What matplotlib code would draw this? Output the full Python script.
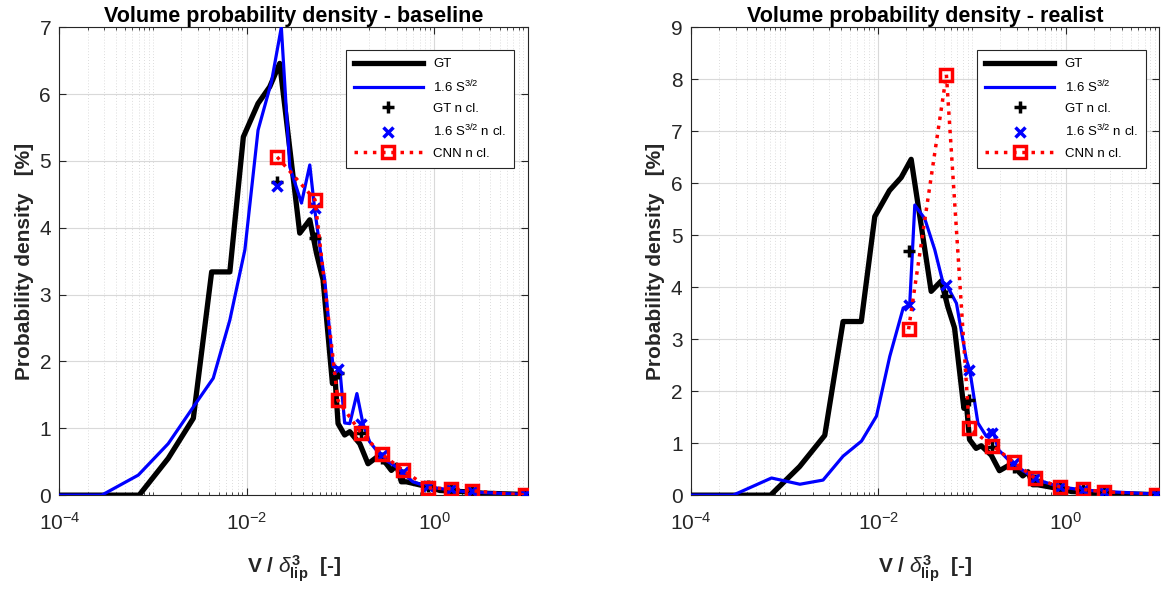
import numpy as np
import matplotlib
matplotlib.use('Agg')
import matplotlib.pyplot as plt
from matplotlib.ticker import LogLocator, NullFormatter

plt.rcParams['font.family'] = 'Liberation Sans'
plt.rcParams['mathtext.fontset'] = 'custom'
plt.rcParams['mathtext.rm'] = 'Liberation Sans'
plt.rcParams['mathtext.bf'] = 'Liberation Sans:bold'
plt.rcParams['mathtext.it'] = 'Liberation Sans:italic'

# ground truth curve (same for both panels)
gt_x = [1e-4, 7.1e-4, 1.45e-3, 2.69e-3, 4.22e-3, 6.6e-3, 9.2e-3, 1.32e-2, 1.76e-2,
        2.25e-2, 3.68e-2, 4.71e-2, 5.55e-2, 6.53e-2, 8.22e-2, 8.7e-2, 9.44e-2,
        0.111, 0.126, 0.161, 0.197, 0.263, 0.35, 0.398, 0.447, 0.506, 0.89,
        1.15, 2.19, 3.31, 9.5]
gt_y = [0, 0, 0.55, 1.15, 3.34, 3.34, 5.36, 5.86, 6.11, 6.46, 3.92, 4.12,
        3.62, 3.22, 1.67, 1.82, 1.07, 0.90, 0.95, 0.77, 0.47, 0.60, 0.37, 0.45,
        0.20, 0.20, 0.12, 0.07, 0.05, 0.03, 0.01]

# 1.6 S^3/2 curve, baseline
bl_x = [1e-4, 2.83e-4, 6.95e-4, 1.45e-3, 2.69e-3, 4.39e-3, 6.6e-3, 9.55e-3,
        1.32e-2, 1.84e-2, 2.34e-2, 2.88e-2, 3.84e-2, 4.71e-2, 5.32e-2, 6.3e-2,
        6.8e-2, 8.34e-2, 9.84e-2, 0.111, 0.126, 0.150, 0.174, 0.205, 0.284,
        0.398, 0.594, 0.89, 2.19, 9.5]
bl_y = [0, 0, 0.30, 0.77, 1.32, 1.75, 2.62, 3.67, 5.46, 6.19, 7.0, 4.91,
        4.37, 4.94, 4.27, 3.52, 3.22, 1.92, 1.90, 1.08, 1.07, 1.52, 1.07, 0.80,
        0.55, 0.42, 0.20, 0.12, 0.05, 0.01]

# 1.6 S^3/2 curve, realist
rl_x = [1e-4, 2.83e-4, 7.26e-4, 1.46e-3, 2.58e-3, 4.22e-3, 6.64e-3, 9.59e-3,
        1.33e-2, 1.85e-2, 2.17e-2, 2.46e-2, 3.14e-2, 4.02e-2, 4.93e-2, 5.36e-2,
        6.85e-2, 8.75e-2, 9.5e-2, 0.116, 0.143, 0.168, 0.191, 0.264, 0.383,
        0.49, 0.867, 1.54, 2.69, 9.3]
rl_y = [0, 0, 0.33, 0.21, 0.29, 0.75, 1.04, 1.52, 2.67, 3.60, 3.66, 5.58,
        5.32, 4.72, 4.08, 4.05, 3.69, 2.60, 2.41, 1.39, 1.13, 1.26, 0.88, 0.62,
        0.43, 0.30, 0.16, 0.10, 0.07, 0.02]

# "n cl." points, shared bin positions
ncl_x = [0.0211, 0.0535, 0.0938, 0.166, 0.279, 0.468, 0.871, 1.53, 2.57, 9.33]
gt_ncl = [4.69, 3.84, 1.83, 0.93, 0.55, 0.30, 0.13, 0.09, 0.06, 0.01]
bl_s_ncl = [4.62, 4.30, 1.88, 1.07, 0.60, 0.35, 0.13, 0.09, 0.06, 0.01]
bl_cnn = [5.06, 4.42, 1.42, 0.93, 0.61, 0.37, 0.11, 0.095, 0.065, 0.0]
rl_s_ncl = [3.66, 4.05, 2.41, 1.20, 0.62, 0.33, 0.15, 0.10, 0.06, 0.02]
rl_cnn = [3.19, 8.09, 1.29, 0.95, 0.64, 0.33, 0.16, 0.11, 0.065, 0.01]

panels = [
    ('Volume probability density - baseline', bl_x, bl_y, bl_s_ncl, bl_cnn, 7),
    ('Volume probability density - realist', rl_x, rl_y, rl_s_ncl, rl_cnn, 9),
]

fig = plt.figure(figsize=(11.65, 5.93), dpi=100)
lefts = [0.051, 0.593]
grey = (0.15, 0.15, 0.15)

for left, (title, sx, sy, s_ncl, cnn, ymax) in zip(lefts, panels):
    ax = fig.add_axes([left, 0.165, 0.402, 0.789])
    ax.plot(gt_x, gt_y, color='k', lw=3.8, label='GT', zorder=3)
    ax.plot(sx, sy, color='b', lw=2.3, label=r'1.6 S$^{3/2}$', zorder=4)
    ax.plot(ncl_x, gt_ncl, 'k+', ms=8, mew=2.5, label='GT n cl.', zorder=5)
    ax.plot(ncl_x, s_ncl, 'bx', ms=7, mew=2.5, label=r'1.6 S$^{3/2}$ n cl.', zorder=5)
    ax.plot(ncl_x, cnn, color='r', ls=':', lw=2.5, marker='s', ms=8,
            mfc='none', mew=2.5, label='CNN n cl.', zorder=6)

    ax.set_xscale('log')
    ax.set_xlim(1e-4, 1e1)
    ax.set_ylim(0, ymax)
    ax.set_xticks([1e-4, 1e-2, 1e0])
    ax.xaxis.set_minor_locator(LogLocator(base=10, subs=np.arange(1, 10), numticks=20))
    ax.xaxis.set_minor_formatter(NullFormatter())
    ax.set_yticks(range(ymax + 1))
    ax.grid(which='major', color='0.85', lw=0.8, zorder=0)
    ax.grid(which='minor', axis='x', color='0.82', lw=0.6, ls=(0, (1, 2.5)), zorder=0)
    ax.tick_params(which='both', direction='in', top=True, right=True,
                   labelsize=15, colors=grey)
    ax.tick_params(axis='x', pad=12)
    ax.tick_params(axis='y', pad=6)
    ax.tick_params(which='major', length=5)
    ax.tick_params(which='minor', length=2.5)
    for sp in ax.spines.values():
        sp.set_color(grey)

    ax.set_title(title, fontsize=15.5, fontweight='bold', pad=3)
    ax.set_ylabel('Probability density   [%]', fontsize=15, fontweight='bold', color=grey)
    ax.set_xlabel(r'V / $\delta^{\mathbf{3}}_{\mathbf{lip}}$  [-]', fontsize=15,
                  fontweight='bold', color=grey, labelpad=14)

    leg = ax.legend(loc='upper right', bbox_to_anchor=(0.985, 0.965), fontsize=9.5,
                    handlelength=5.2, framealpha=1, fancybox=False, edgecolor=grey,
                    borderpad=0.6, labelspacing=0.6)
    leg.get_frame().set_linewidth(0.8)

fig.savefig('out.png', dpi=100)
